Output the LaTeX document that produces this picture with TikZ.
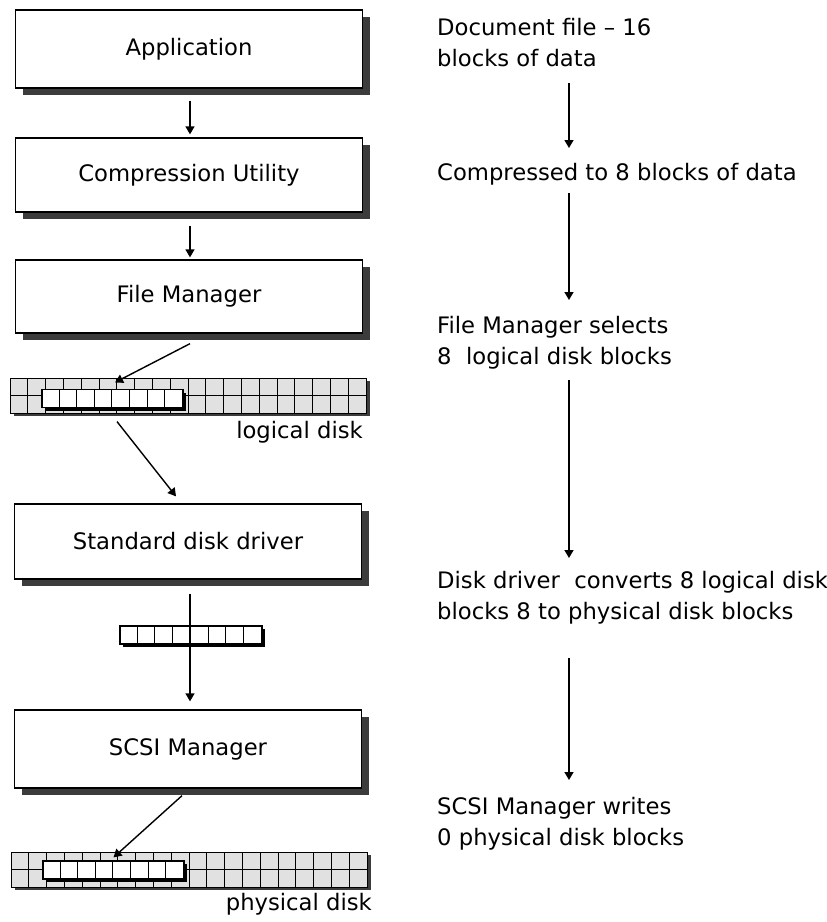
\documentclass[tikz,border=0pt]{standalone}
\usepackage{fontspec}
\setmainfont{DejaVu Sans}
\usetikzlibrary{arrows.meta,shadows}
\definecolor{diskgray}{RGB}{225,225,225}
\definecolor{shadowgray}{RGB}{60,60,60}
\begin{document}
\begin{tikzpicture}[x=1pt,y=-1pt, font=\fontsize{22.7pt}{31pt}\selectfont,
 box/.style={draw=black, line width=1.3pt, fill=white, minimum width=347pt, inner sep=0pt,
   drop shadow={shadow xshift=7pt, shadow yshift=-7pt, fill=shadowgray, opacity=1}},
 arr/.style={line width=1.4pt, -{Triangle[length=8pt,width=9pt]}},
 disk/.style={draw=black, line width=1pt, fill=diskgray, minimum width=356pt, minimum height=35pt, inner sep=0pt,
   drop shadow={shadow xshift=3pt, shadow yshift=-3pt, fill=shadowgray, opacity=1}},
 blk/.style={draw=black, line width=1.2pt, fill=white, minimum width=141pt, minimum height=18pt, inner sep=0pt,
   drop shadow={shadow xshift=3pt, shadow yshift=-3pt, fill=black, opacity=1}},
 cell/.style={line width=1pt},
 note/.style={anchor=base west, align=left, inner sep=0pt}
]
\useasboundingbox[fill=white] (0,0) rectangle (827,922);

% left boxes
\node[box, minimum height=78pt] (app)  at (189,49)    {Application};
\node[box, minimum height=74pt] (comp) at (189,175)   {Compression Utility};
\node[box, minimum height=73pt] (fm)   at (189,296.5) {File Manager};
\node[box, minimum height=75pt] (sdd)  at (188,541.5) {Standard disk driver};
\node[box, minimum height=78pt] (scsi) at (188,749)   {SCSI Manager};

% logical disk
\node[disk] (ldisk) at (188.5,395.5) {};
\draw[cell] (ldisk.west) -- (ldisk.east);
\foreach \i in {1,...,19}
  \draw[cell] ([xshift=\i*17.8pt]ldisk.south west) -- ([xshift=\i*17.8pt]ldisk.north west);
\node[blk] (lblk) at (112.5,398.5) {};
\foreach \i in {1,...,7}
  \draw[cell] ([xshift=\i*17.625pt]lblk.south west) -- ([xshift=\i*17.625pt]lblk.north west);
\node[anchor=base east, inner sep=0pt] (llab) at (363,438) {logical disk};

% middle strip
\node[blk, minimum width=142pt] (mstrip) at (191,635) {};
\foreach \i in {1,...,7}
  \draw[cell] ([xshift=\i*17.75pt]mstrip.south west) -- ([xshift=\i*17.75pt]mstrip.north west);

% physical disk
\node[disk] (pdisk) at (189.5,869.5) {};
\draw[cell] (pdisk.west) -- (pdisk.east);
\foreach \i in {1,...,19}
  \draw[cell] ([xshift=\i*17.8pt]pdisk.south west) -- ([xshift=\i*17.8pt]pdisk.north west);
\node[blk] (pblk) at (113.5,870) {};
\foreach \i in {1,...,7}
  \draw[cell] ([xshift=\i*17.625pt]pblk.south west) -- ([xshift=\i*17.625pt]pblk.north west);
\node[anchor=base east, inner sep=0pt] (plab) at (372,910) {physical disk};

% left connectors
\draw[arr] ([xshift=1pt,yshift=-12pt]app.south) -- ([xshift=1pt,yshift=3pt]comp.north);
\draw[arr] ([xshift=1pt,yshift=-13pt]comp.south) -- ([xshift=1pt,yshift=2pt]fm.north);
\draw[arr] ([xshift=1pt,yshift=-10pt]fm.south) -- ([xshift=2.5pt,yshift=6.5pt]lblk.north);
\draw[arr] ([xshift=4.5pt,yshift=-13.5pt]lblk.south) -- ([xshift=-12pt,yshift=7pt]sdd.north);
\draw[arr] ([xshift=2pt,yshift=-14pt]sdd.south) -- ([xshift=2pt,yshift=8pt]scsi.north);
\draw[arr] ([xshift=-6pt,yshift=-7pt]scsi.south) -- ([xshift=0pt,yshift=3pt]pblk.north);

% right column (base = baseline of last line)
\node[note] (t1) at (437,66)  {Document file – 16\\blocks of data};
\node[note] (t2) at (437,180) {Compressed to 8 blocks of data};
\node[note] (t3) at (437,364) {File Manager selects\\8\ \ logical disk blocks};
\node[note] (t4) at (437,619) {Disk driver\ \ converts 8 logical disk\\blocks 8 to physical disk blocks};
\node[note] (t5) at (437,845) {SCSI Manager writes\\0 physical disk blocks};

\draw[arr] ([xshift=132pt,yshift=-17pt]t1.base west) -- ([xshift=132pt,yshift=32pt]t2.base west);
\draw[arr] ([xshift=132pt,yshift=-13pt]t2.base west) -- ([xshift=132pt,yshift=64pt]t3.base west);
\draw[arr] ([xshift=132pt,yshift=-16pt]t3.base west) -- ([xshift=132pt,yshift=61pt]t4.base west);
\draw[arr] ([xshift=132pt,yshift=-39pt]t4.base west) -- ([xshift=132pt,yshift=65pt]t5.base west);
\end{tikzpicture}
\end{document}
